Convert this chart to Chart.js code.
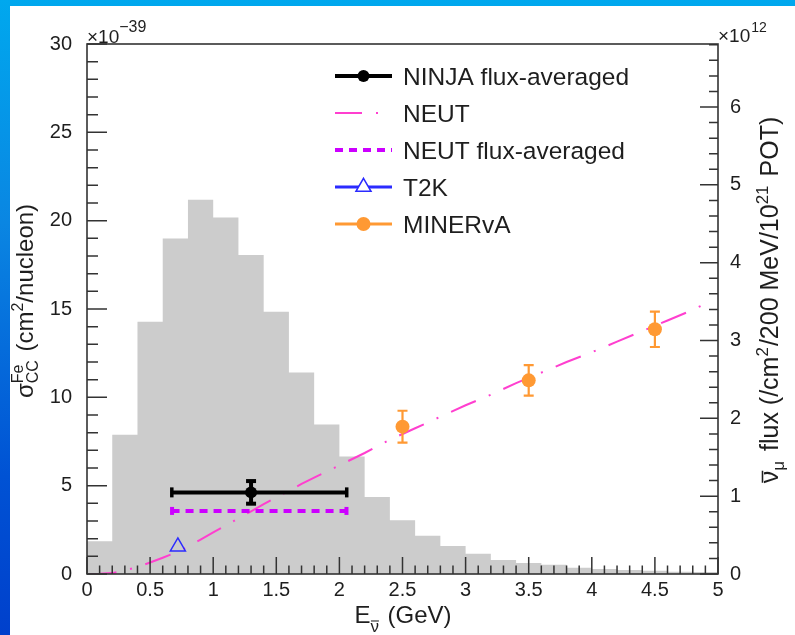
<!DOCTYPE html>
<html>
<head>
<meta charset="utf-8">
<script src="https://cdn.jsdelivr.net/npm/chart.js@4.4.0/dist/chart.umd.min.js"></script>
<style>
  html, body { margin: 0; padding: 0; width: 795px; height: 635px; overflow: hidden; }
  body { background: linear-gradient(180deg, #00a8ee 0%, #0a86e2 35%, #0052d4 75%, #0040cc 100%); position: relative; }
  #sheet { position: absolute; left: 10px; top: 6px; right: 0; bottom: 0; background: #ffffff; }
  #plot { position: absolute; left: 0; top: 0; }
</style>
</head>
<body>
<div id="sheet"></div>
<canvas id="plot" width="795" height="635"></canvas>
<script>
const FONT = '"Liberation Sans", Arial, Helvetica, sans-serif';
const TEXT = '#1e1e1e';

// Anti-nu_mu flux, 0.2 GeV bins (x10^12 /cm^2/200 MeV/10^21 POT)
const fluxBinEdges = [0, 0.2, 0.4, 0.6, 0.8, 1.0, 1.2, 1.4, 1.6, 1.8, 2.0, 2.2, 2.4, 2.6, 2.8,
                      3.0, 3.2, 3.4, 3.6, 3.8, 4.0, 4.2, 4.4, 4.6, 4.8, 5.0];
const fluxValues = [0.42, 1.79, 3.24, 4.31, 4.81, 4.58, 4.10, 3.37, 2.59, 1.92, 1.51, 0.99, 0.69,
                    0.49, 0.36, 0.26, 0.18, 0.14, 0.12, 0.08, 0.064, 0.052, 0.043, 0.030, 0.025];

// NEUT prediction of the CC cross section on Fe (x10^-39 cm^2/nucleon)
const neutEnergy = [0.02, 0.1, 0.2, 0.3, 0.4, 0.5, 0.6, 0.7, 0.8, 0.9, 1.0, 1.1, 1.2, 1.3, 1.4, 1.5,
                    1.6, 1.7, 1.8, 1.9, 2.0, 2.2, 2.4, 2.6, 2.8, 3.0, 3.2, 3.4, 3.6, 3.8, 4.0, 4.2,
                    4.4, 4.6, 4.8, 4.9];
const neutXsec = [0, 0.01, 0.05, 0.2, 0.4, 0.65, 0.92, 1.2, 1.55, 1.95, 2.35, 2.75, 3.15, 3.55, 3.95,
                  4.35, 4.7, 5.1, 5.45, 5.8, 6.15, 6.85, 7.6, 8.25, 8.9, 9.55, 10.15, 10.8, 11.4,
                  12.0, 12.55, 13.15, 13.75, 14.35, 14.95, 15.3];

// Flux-averaged measurement and prediction
const ninjaEnergy = [1.3];
const ninjaXsec = [4.62];
const ninjaXsecErr = [0.64];
const fluxWindow = [0.67, 2.06];
const neutFluxAvgXsec = [3.57];

// Other experiments
const t2kEnergy = [0.72];
const t2kXsec = [1.55];
const minervaEnergy = [2.5, 3.5, 4.5];
const minervaXsec = [8.34, 10.96, 13.85];
const minervaXsecErr = [0.9, 0.86, 1.0];

// Axis tick labels
const xTickValues = [0, 0.5, 1, 1.5, 2, 2.5, 3, 3.5, 4, 4.5, 5];
const yTickValues = [0, 5, 10, 15, 20, 25, 30];
const y2TickValues = [0, 1, 2, 3, 4, 5, 6];

const COLORS = {
  ninja: '#000000',
  neut: '#ff3fcf',
  neutAvg: '#cc00ff',
  t2k: '#2b2bff',
  minerva: '#ff9933',
  flux: '#cccccc'
};

const pts = (xs, ys) => xs.map((x, i) => ({ x: x, y: ys[i] }));

// Draws a string made of pieces with super/subscripts, centred on (x, y)
function drawRich(ctx, parts, x, y, angle) {
  ctx.save();
  ctx.translate(x, y);
  ctx.rotate(angle);
  ctx.fillStyle = TEXT;
  ctx.strokeStyle = TEXT;
  ctx.textAlign = 'left';
  ctx.textBaseline = 'alphabetic';
  const widths = parts.map(p => {
    ctx.font = p.size + 'px ' + FONT;
    if (p.up !== undefined) {
      return Math.max(ctx.measureText(p.up).width, ctx.measureText(p.down).width) + (p.gap || 0);
    }
    return ctx.measureText(p.t).width + (p.gap || 0);
  });
  const total = widths.reduce((a, b) => a + b, 0);
  let cx = -total / 2;
  parts.forEach((p, i) => {
    ctx.font = p.size + 'px ' + FONT;
    if (p.up !== undefined) {
      ctx.fillText(p.up, cx, p.dyUp);
      ctx.fillText(p.down, cx, p.dyDown);
    } else {
      const dy = p.dy || 0;
      ctx.fillText(p.t, cx, dy);
      if (p.over) {
        const w = ctx.measureText(p.t).width;
        const oy = dy - p.size * 0.56 - 1.5;
        ctx.lineWidth = Math.max(1, p.size / 16);
        ctx.beginPath();
        ctx.moveTo(cx + 0.5, oy);
        ctx.lineTo(cx + w, oy);
        ctx.stroke();
      }
    }
    cx += widths[i];
  });
  ctx.restore();
}

// Frame, inward ticks, error bars, legend and titles
const decorations = {
  id: 'decorations',
  afterDatasetsDraw(chart) {
    const ctx = chart.ctx;
    const a = chart.chartArea;
    const sx = chart.scales.x, sy = chart.scales.y, sy2 = chart.scales.y2;

    ctx.save();
    // ---- error bars ----
    ctx.lineCap = 'butt';
    // NINJA: horizontal band of the flux window and vertical uncertainty
    ninjaEnergy.forEach((e, i) => {
      const yc = sy.getPixelForValue(ninjaXsec[i]);
      const x0 = sx.getPixelForValue(fluxWindow[0]);
      const x1 = sx.getPixelForValue(fluxWindow[1]);
      const xc = sx.getPixelForValue(e);
      const yTop = sy.getPixelForValue(ninjaXsec[i] + ninjaXsecErr[i]);
      const yBot = sy.getPixelForValue(ninjaXsec[i] - ninjaXsecErr[i]);
      ctx.strokeStyle = COLORS.ninja;
      ctx.fillStyle = COLORS.ninja;
      ctx.lineWidth = 4;
      ctx.beginPath();
      ctx.moveTo(x0, yc); ctx.lineTo(x1, yc);
      ctx.moveTo(xc, yTop); ctx.lineTo(xc, yBot);
      ctx.stroke();
      ctx.fillRect(x0 - 1.5, yc - 5, 3.5, 10);
      ctx.fillRect(x1 - 2, yc - 5, 3.5, 10);
      ctx.fillRect(xc - 5, yTop - 2, 10, 4);
      ctx.fillRect(xc - 5, yBot - 2, 10, 4);
    });
    // NEUT flux-averaged end marks
    {
      const yc = sy.getPixelForValue(neutFluxAvgXsec[0]);
      ctx.fillStyle = COLORS.neutAvg;
      ctx.fillRect(sx.getPixelForValue(fluxWindow[0]) - 1.5, yc - 4, 4, 8);
      ctx.fillRect(sx.getPixelForValue(fluxWindow[1]) - 2.5, yc - 4, 4, 8);
    }
    // MINERvA vertical uncertainties
    ctx.strokeStyle = COLORS.minerva;
    ctx.lineWidth = 2.2;
    minervaEnergy.forEach((e, i) => {
      const xc = sx.getPixelForValue(e);
      const yTop = sy.getPixelForValue(minervaXsec[i] + minervaXsecErr[i]);
      const yBot = sy.getPixelForValue(minervaXsec[i] - minervaXsecErr[i]);
      ctx.beginPath();
      ctx.moveTo(xc, yTop); ctx.lineTo(xc, yBot);
      ctx.moveTo(xc - 5, yTop); ctx.lineTo(xc + 5, yTop);
      ctx.moveTo(xc - 5, yBot); ctx.lineTo(xc + 5, yBot);
      ctx.stroke();
    });

    // ---- frame and ticks ----
    ctx.strokeStyle = '#333333';
    ctx.lineWidth = 1.5;
    ctx.beginPath();
    // bottom axis: minor every 0.1, major every 0.5
    for (let i = 0; i <= 50; i++) {
      const px = sx.getPixelForValue(i * 0.1);
      const len = (i % 5 === 0) ? 17 : 8.5;
      ctx.moveTo(px, a.bottom); ctx.lineTo(px, a.bottom - len);
    }
    // left axis: minor every 1, major every 5
    for (let i = 0; i <= 30; i++) {
      const py = sy.getPixelForValue(i);
      const len = (i % 5 === 0) ? 20 : 11;
      ctx.moveTo(a.left, py); ctx.lineTo(a.left + len, py);
    }
    // right axis: minor every 0.2, major every 1
    for (let i = 0; i * 0.2 <= sy2.max + 1e-9; i++) {
      const py = sy2.getPixelForValue(i * 0.2);
      const len = (i % 5 === 0) ? 18 : 9;
      ctx.moveTo(a.right, py); ctx.lineTo(a.right - len, py);
    }
    ctx.stroke();
    ctx.lineWidth = 1.6;
    ctx.strokeRect(a.left, a.top, a.right - a.left, a.bottom - a.top);

    // ---- axis exponents ----
    ctx.fillStyle = TEXT;
    ctx.textBaseline = 'alphabetic';
    ctx.textAlign = 'left';
    ctx.font = '19px ' + FONT;
    ctx.fillText('\u00d710', a.left, 42.5);
    let w = ctx.measureText('\u00d710').width;
    ctx.font = '16px ' + FONT;
    ctx.fillText('\u221239', a.left + w, 32);
    ctx.font = '19px ' + FONT;
    ctx.fillText('\u00d710', a.right, 41.5);
    w = ctx.measureText('\u00d710').width;
    ctx.font = '14px ' + FONT;
    ctx.fillText('12', a.right + w + 1, 32);

    // ---- axis titles ----
    drawRich(ctx, [
      { t: '\u03c3', size: 24 },
      { up: 'Fe', down: 'CC', size: 16, dyUp: -10, dyDown: 5, gap: 2 },
      { t: ' (cm', size: 24 },
      { t: '2', size: 16, dy: -10 },
      { t: '/nucleon)', size: 24 }
    ], 33, 301, -Math.PI / 2);

    drawRich(ctx, [
      { t: '\u03bd', size: 25, over: true },
      { t: '\u03bc', size: 17, dy: 6, gap: 3 },
      { t: ' flux (/cm', size: 25 },
      { t: '2', size: 17, dy: -10, gap: 1 },
      { t: '/200 MeV/10', size: 25 },
      { t: '21', size: 17, dy: -10, gap: 2 },
      { t: ' POT)', size: 25 }
    ], 778, 300, -Math.PI / 2);

    drawRich(ctx, [
      { t: 'E', size: 24 },
      { t: '\u03bd', size: 17, dy: 9, over: true, gap: 2 },
      { t: ' (GeV)', size: 24 }
    ], 403, 623, 0);

    // ---- legend ----
    const ds = chart.data.datasets;
    const rows = [76, 113, 150, 187, 224];
    const lx0 = 335, lx1 = 392, mx = 363.5, tx = 403;
    ctx.font = '24.5px ' + FONT;
    rows.forEach((ry, i) => {
      const d = ds[i];
      ctx.save();
      ctx.lineCap = 'butt';
      if (d.legendKind === 'errorbar') {
        ctx.strokeStyle = d.pointBackgroundColor; ctx.lineWidth = 4;
        ctx.beginPath(); ctx.moveTo(lx0, ry); ctx.lineTo(lx1, ry); ctx.stroke();
        ctx.fillStyle = d.pointBackgroundColor;
        ctx.beginPath(); ctx.arc(mx, ry, d.pointRadius, 0, Math.PI * 2); ctx.fill();
      } else if (d.legendKind === 'line') {
        ctx.strokeStyle = d.borderColor; ctx.lineWidth = d.borderWidth;
        ctx.setLineDash(d.borderDash);
        ctx.beginPath(); ctx.moveTo(lx0, ry); ctx.lineTo(lx1, ry); ctx.stroke();
      } else if (d.legendKind === 'triangle') {
        ctx.strokeStyle = d.pointBorderColor; ctx.lineWidth = 3;
        ctx.beginPath(); ctx.moveTo(lx0, ry); ctx.lineTo(lx1, ry); ctx.stroke();
        const r = d.pointRadius;
        ctx.fillStyle = '#ffffff';
        ctx.lineWidth = d.pointBorderWidth;
        ctx.beginPath();
        ctx.moveTo(mx, ry - r);
        ctx.lineTo(mx + r * 0.866, ry + r * 0.5);
        ctx.lineTo(mx - r * 0.866, ry + r * 0.5);
        ctx.closePath();
        ctx.fill(); ctx.stroke();
      } else if (d.legendKind === 'circle') {
        ctx.strokeStyle = d.pointBackgroundColor; ctx.lineWidth = 3;
        ctx.beginPath(); ctx.moveTo(lx0, ry); ctx.lineTo(lx1, ry); ctx.stroke();
        ctx.fillStyle = d.pointBackgroundColor;
        ctx.beginPath(); ctx.arc(mx, ry, d.pointRadius, 0, Math.PI * 2); ctx.fill();
      }
      ctx.restore();
      ctx.fillStyle = TEXT;
      ctx.fillText(d.label, tx, ry + 8.5);
    });
    ctx.restore();
  }
};

const tickFont = { family: FONT, size: 20 };

new Chart(document.getElementById('plot'), {
  type: 'line',
  data: {
    datasets: [
      {
        label: 'NINJA flux-averaged',
        legendKind: 'errorbar',
        data: pts(ninjaEnergy, ninjaXsec),
        showLine: false,
        pointRadius: 6,
        pointBackgroundColor: COLORS.ninja,
        pointBorderColor: COLORS.ninja,
        pointBorderWidth: 0,
        yAxisID: 'y',
        order: 1
      },
      {
        label: 'NEUT',
        legendKind: 'line',
        data: pts(neutEnergy, neutXsec),
        borderColor: COLORS.neut,
        borderWidth: 2,
        borderDash: [27, 14, 2, 14],
        pointRadius: 0,
        yAxisID: 'y',
        order: 3
      },
      {
        label: 'NEUT flux-averaged',
        legendKind: 'line',
        data: fluxWindow.map(e => ({ x: e, y: neutFluxAvgXsec[0] })),
        borderColor: COLORS.neutAvg,
        borderWidth: 4,
        borderDash: [8, 6],
        pointRadius: 0,
        yAxisID: 'y',
        order: 2
      },
      {
        label: 'T2K',
        legendKind: 'triangle',
        data: pts(t2kEnergy, t2kXsec),
        showLine: false,
        pointStyle: 'triangle',
        pointRadius: 8.7,
        pointBorderWidth: 1.5,
        pointBorderColor: COLORS.t2k,
        pointBackgroundColor: 'rgba(0,0,0,0)',
        yAxisID: 'y',
        order: 1
      },
      {
        label: 'MINERvA',
        legendKind: 'circle',
        data: pts(minervaEnergy, minervaXsec),
        showLine: false,
        pointRadius: 7,
        pointBackgroundColor: COLORS.minerva,
        pointBorderColor: COLORS.minerva,
        pointBorderWidth: 0,
        yAxisID: 'y',
        order: 1
      },
      {
        label: 'flux',
        data: fluxBinEdges.map((e, i) => ({ x: e, y: fluxValues[Math.min(i, fluxValues.length - 1)] })),
        stepped: 'before',
        fill: 'origin',
        backgroundColor: COLORS.flux,
        borderColor: COLORS.flux,
        borderWidth: 0,
        pointRadius: 0,
        yAxisID: 'y2',
        order: 10
      }
    ]
  },
  options: {
    responsive: false,
    animation: false,
    devicePixelRatio: 1,
    layout: { padding: { top: 44, left: 0, right: 0, bottom: 0 } },
    plugins: { legend: { display: false }, tooltip: { enabled: false } },
    elements: { line: { tension: 0 } },
    scales: {
      x: {
        type: 'linear', min: 0, max: 5,
        afterBuildTicks: s => { s.ticks = xTickValues.map(v => ({ value: v })); },
        afterFit: s => { s.height = 61; },
        ticks: { font: tickFont, color: TEXT, padding: -4, maxRotation: 0, autoSkip: false,
                 callback: v => String(v) },
        grid: { display: false }, border: { display: false }
      },
      y: {
        type: 'linear', position: 'left', min: 0, max: 30,
        afterBuildTicks: s => { s.ticks = yTickValues.map(v => ({ value: v })); },
        afterFit: s => { s.width = 87; },
        ticks: { font: tickFont, color: TEXT, padding: 7, callback: v => String(v) },
        grid: { display: false }, border: { display: false }
      },
      y2: {
        type: 'linear', position: 'right', min: 0, max: 6.81,
        afterBuildTicks: s => { s.ticks = y2TickValues.map(v => ({ value: v })); },
        afterFit: s => { s.width = 77; },
        ticks: { font: tickFont, color: TEXT, padding: 4, callback: v => String(v) },
        grid: { display: false }, border: { display: false }
      }
    }
  },
  plugins: [decorations]
});
</script>
</body>
</html>
